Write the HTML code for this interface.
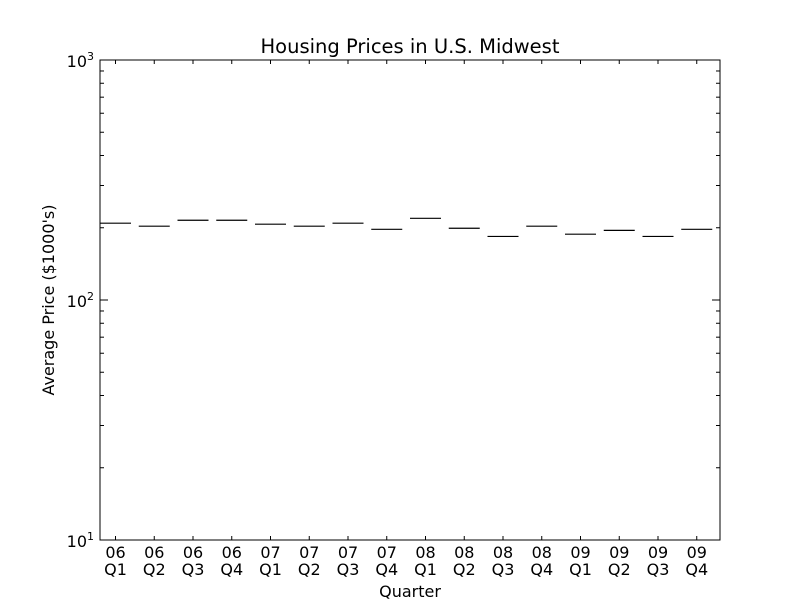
<!DOCTYPE html>
<html><head><meta charset="utf-8"><style>
body{margin:0;background:#fff}
svg{display:block;font-family:"DejaVu Sans","Liberation Sans",sans-serif}
</style></head><body>
<svg id="c" width="800" height="600" xmlns="http://www.w3.org/2000/svg">
<rect width="800" height="600" fill="#fff"/>
<text x="410" y="53" font-size="19.5" text-anchor="middle">Housing Prices in U.S. Midwest</text>
<text x="410" y="597" font-size="16" text-anchor="middle">Quarter</text>
<text transform="translate(54,300) rotate(-90)" font-size="16" text-anchor="middle">Average Price ($1000's)</text>
<g id="g"></g>
<rect x="100" y="60" width="620" height="480" fill="none" stroke="#000" stroke-width="1"/>
</svg>
<script>
const categories=["06 Q1","06 Q2","06 Q3","06 Q4","07 Q1","07 Q2","07 Q3","07 Q4","08 Q1","08 Q2","08 Q3","08 Q4","09 Q1","09 Q2","09 Q3","09 Q4"];
const prices=[209,203,215,215,207,203,209,197,219,199,184,203,188,195,184,197];
const yTicks=[10,100,1000];
const yTickExp=["1","2","3"];
const L=100,R=720,T=60,B=540;
const X=i=>L+(i)*(R-L)/categories.length;
const Y=v=>B-(Math.log10(v)-1)/2*(B-T);
const g=document.getElementById('g');const NS="http://www.w3.org/2000/svg";
function mk(t,a){const e=document.createElementNS(NS,t);for(const k in a)e.setAttribute(k,a[k]);g.appendChild(e);return e;}
prices.forEach((v,i)=>{const l=mk('line',{x1:X(i),x2:X(i+0.8),y1:Y(v),y2:Y(v),stroke:'#000','stroke-width':1.2});

});
categories.forEach((c,i)=>{const x=X(i+0.4);
const t1=mk('line',{x1:x,x2:x,y1:B,y2:B-4,stroke:'#000'});
const t2=mk('line',{x1:x,x2:x,y1:T,y2:T+4,stroke:'#000'});
const p=c.split(' ');
const a=mk('text',{x:x,y:B+18,'font-size':16,'text-anchor':'middle'});a.textContent=p[0];
const b=mk('text',{x:x,y:B+35,'font-size':16,'text-anchor':'middle'});b.textContent=p[1];});
yTicks.forEach((v,i)=>{const y=Y(v);
const t1=mk('line',{x1:L,x2:L+8,y1:y,y2:y,stroke:'#000'});
const t2=mk('line',{x1:R,x2:R-8,y1:y,y2:y,stroke:'#000'});
const t=mk('text',{x:L-6,y:y+7,'font-size':16,'text-anchor':'end'});t.textContent="10";
const s=mk('tspan',{dy:-7,'font-size':11});s.textContent=yTickExp[i];t.appendChild(s);
if(i<yTicks.length-1){for(let m=2;m<10;m++){const yy=Y(v*m);
const a=mk('line',{x1:L,x2:L+4,y1:yy,y2:yy,stroke:'#000'});
const b=mk('line',{x1:R,x2:R-4,y1:yy,y2:yy,stroke:'#000'});}}});
</script>
</body></html>
